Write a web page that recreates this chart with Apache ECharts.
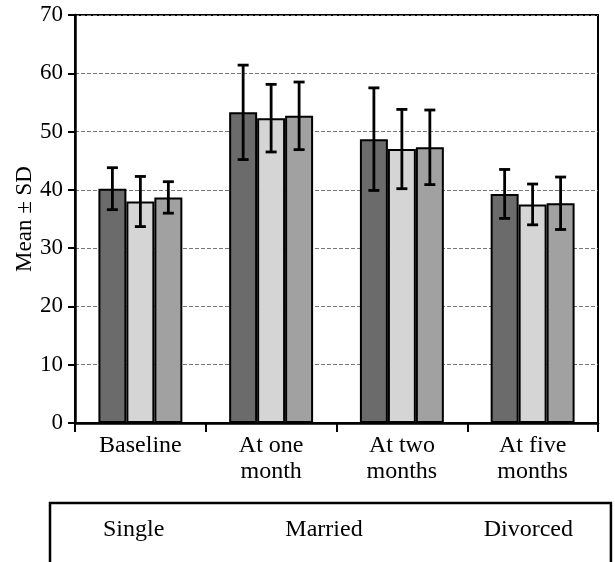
<!DOCTYPE html>
<html>
<head>
<meta charset="utf-8">
<script src="https://cdn.jsdelivr.net/npm/echarts@6/dist/echarts.min.js"></script>
<style>html,body{margin:0;padding:0;background:#fff}#c{width:615px;height:562px}</style>
</head>
<body>
<div id="c"></div>
<script>
const categories = ['Baseline', 'At one\nmonth', 'At two\nmonths', 'At five\nmonths'];
const groupNames = ['Single', 'Married', 'Divorced'];
const singleMean = [40.2, 53.3, 48.7, 39.3];
const marriedMean = [38.0, 52.3, 47.0, 37.5];
const divorcedMean = [38.7, 52.7, 47.3, 37.7];
const singleSD = [3.6, 8.1, 8.8, 4.2];
const marriedSD = [4.3, 5.8, 6.8, 3.5];
const divorcedSD = [2.7, 5.8, 6.4, 4.5];
const yTicks = [0, 10, 20, 30, 40, 50, 60, 70];

const means = [singleMean, marriedMean, divorcedMean];
const sds = [singleSD, marriedSD, divorcedSD];
const colors = ['#6b6b6b', '#d5d5d5', '#a1a1a1'];
const FONT = "'Liberation Serif', 'Times New Roman', serif";
const BAR_FRAC = 0.214;

const chart = echarts.init(document.getElementById('c'));

const barSeries = groupNames.map((name, k) => ({
  name: name,
  type: 'bar',
  data: means[k],
  barWidth: (BAR_FRAC * 100) + '%',
  barGap: '0%',
  itemStyle: { color: colors[k], borderColor: '#000', borderWidth: 2 },
  emphasis: { disabled: true },
  z: 2
}));

const errSeries = groupNames.map((name, k) => ({
  name: name + ' SD',
  type: 'custom',
  data: means[k].map((m, i) => [i, m - sds[k][i], m + sds[k][i]]),
  encode: { x: 0, y: [1, 2] },
  z: 5,
  silent: true,
  renderItem: function (params, api) {
    const band = api.size([1, 0])[0];
    const bw = band * BAR_FRAC;
    const off = (k - 1) * bw;
    const lo = api.coord([api.value(0), api.value(1)]);
    const hi = api.coord([api.value(0), api.value(2)]);
    const x = lo[0] + off;
    const cap = 5.5;
    const st = { stroke: '#000', lineWidth: 2.8 };
    return {
      type: 'group',
      children: [
        { type: 'line', shape: { x1: x, y1: lo[1], x2: x, y2: hi[1] }, style: st },
        { type: 'line', shape: { x1: x - cap, y1: lo[1], x2: x + cap, y2: lo[1] }, style: st },
        { type: 'line', shape: { x1: x - cap, y1: hi[1], x2: x + cap, y2: hi[1] }, style: st }
      ]
    };
  }
}));

chart.setOption({
  backgroundColor: '#fff',
  animation: false,
  textStyle: { fontFamily: FONT },
  grid: {
    left: 75, right: 17, top: 15, bottom: 139,
    outerBoundsMode: 'none',
    show: true, borderColor: '#000', borderWidth: 2, backgroundColor: 'transparent'
  },
  legend: {
    data: groupNames,
    left: 50,
    top: 503,
    icon: 'rect',
    itemWidth: 0,
    itemHeight: 0,
    itemGap: 115,
    padding: [15, 38, 24, 47],
    borderColor: '#000',
    borderWidth: 2.5,
    selectedMode: false,
    textStyle: { fontFamily: FONT, fontSize: 24, color: '#000' }
  },
  xAxis: {
    type: 'category',
    data: categories,
    axisLine: { lineStyle: { color: '#000', width: 2.5 } },
    axisTick: { show: true, length: 9, lineStyle: { color: '#000', width: 2 } },
    axisLabel: { color: '#000', fontSize: 24, fontFamily: FONT, lineHeight: 26, margin: 10, interval: 0 }
  },
  yAxis: {
    type: 'value',
    min: yTicks[0],
    max: yTicks[yTicks.length - 1],
    interval: 10,
    name: 'Mean ± SD',
    nameLocation: 'middle',
    nameGap: 39,
    nameMoveOverlap: false,
    nameTextStyle: { color: '#000', fontSize: 23, fontFamily: FONT },
    axisLine: { show: true, lineStyle: { color: '#000', width: 2.5 } },
    axisTick: { show: true, length: 7, lineStyle: { color: '#000', width: 2 } },
    axisLabel: { color: '#000', fontSize: 23, fontFamily: FONT, margin: 12 },
    splitLine: { show: true, lineStyle: { color: '#777', type: [4, 2], width: 1 } }
  },
  series: barSeries.concat(errSeries)
});
</script>
</body>
</html>
